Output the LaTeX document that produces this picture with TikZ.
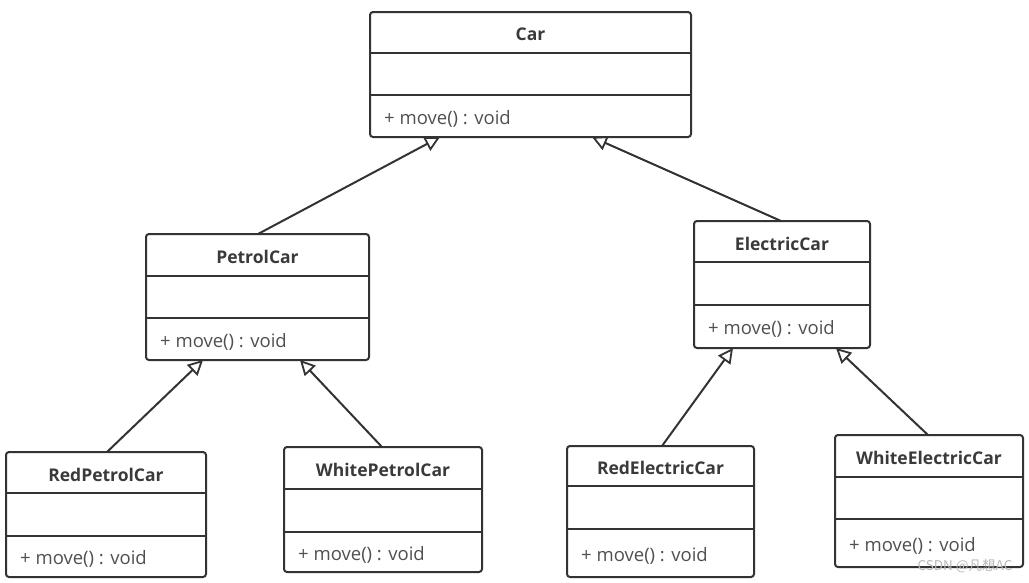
\documentclass[tikz,border=0pt]{standalone}
\usepackage{fontspec}
\setmainfont{Open Sans}
\newfontfamily\cjk{Noto Sans CJK SC}
\usetikzlibrary{arrows.meta,calc}
\definecolor{ink}{HTML}{333333}
\definecolor{txt}{HTML}{3A3A3A}
\definecolor{optxt}{HTML}{505050}
\newcommand\umlcls[8]{%
  \node[clsbox, minimum width={(#4-#2)*1pt}, minimum height={(#5-#3)*1pt}] (#1) at ({(#2+#4)/2},{(#3+#5)/2}) {};
  \node[clstitle] (#1-t) at ({(#2+#4)/2},{(#3+#6)/2+2}) {#8};
  \draw[clsline] (#2,#6) -- (#4,#6);
  \draw[clsline] (#2,#7) -- (#4,#7);
  \node[clsop] (#1-m) at ({#2+14},{(#7+#5)/2+2.5}) {+ move() : void};
}
\begin{document}
\begin{tikzpicture}[x=1pt,y=-1pt,
  clsbox/.style={draw=ink, line width=2pt, rounded corners=3pt, fill=white, inner sep=0pt, outer sep=0pt},
  clsline/.style={draw=ink, line width=2pt},
  clstitle/.style={font=\fontsize{17.5}{20}\selectfont\bfseries, text=txt, inner sep=0pt},
  clsop/.style={font=\fontsize{18.5}{21}\selectfont, text=optxt, anchor=west, inner sep=0pt},
  inh/.style={draw=ink, line width=2pt, -{Triangle[open, length=15pt, width=15pt, line width=1.8pt]}},
  wm/.style={font=\cjk\fontsize{13.5}{15}\selectfont, text=gray!55, inner sep=0pt}]
\path[use as bounding box, fill=white] (0,0) rectangle (1029,582);
\umlcls{car}{370}{12}{691}{137}{53}{95}{Car}
\umlcls{pc}{146}{234}{369}{360}{276}{318}{PetrolCar}
\umlcls{ec}{694}{221}{870}{348}{262}{305}{ElectricCar}
\umlcls{rp}{6}{452}{206}{577}{493}{536}{RedPetrolCar}
\umlcls{wp}{284}{447}{482}{572}{489}{532}{WhitePetrolCar}
\umlcls{re}{567}{446}{754}{577}{486}{529}{RedElectricCar}
\umlcls{we}{835}{435}{1023}{567}{477}{519}{WhiteElectricCar}
\draw[inh] ($(pc.north west)+(112,0)$) -- ($(car.south west)+(70,0)$);
\draw[inh] ($(ec.north west)+(87,0)$) -- ($(car.south west)+(222,0)$);
\draw[inh] ($(rp.north west)+(101,0)$) -- ($(pc.south west)+(57,0)$);
\draw[inh] ($(wp.north west)+(98,0)$) -- ($(pc.south west)+(154,0)$);
\draw[inh] ($(re.north west)+(95,0)$) -- ($(ec.south west)+(39,0)$);
\draw[inh] ($(we.north west)+(93,0)$) -- ($(ec.south west)+(142,0)$);
\node[wm] (wmark) at (965,566) {CSDN @凡想AC};
\end{tikzpicture}
\end{document}
